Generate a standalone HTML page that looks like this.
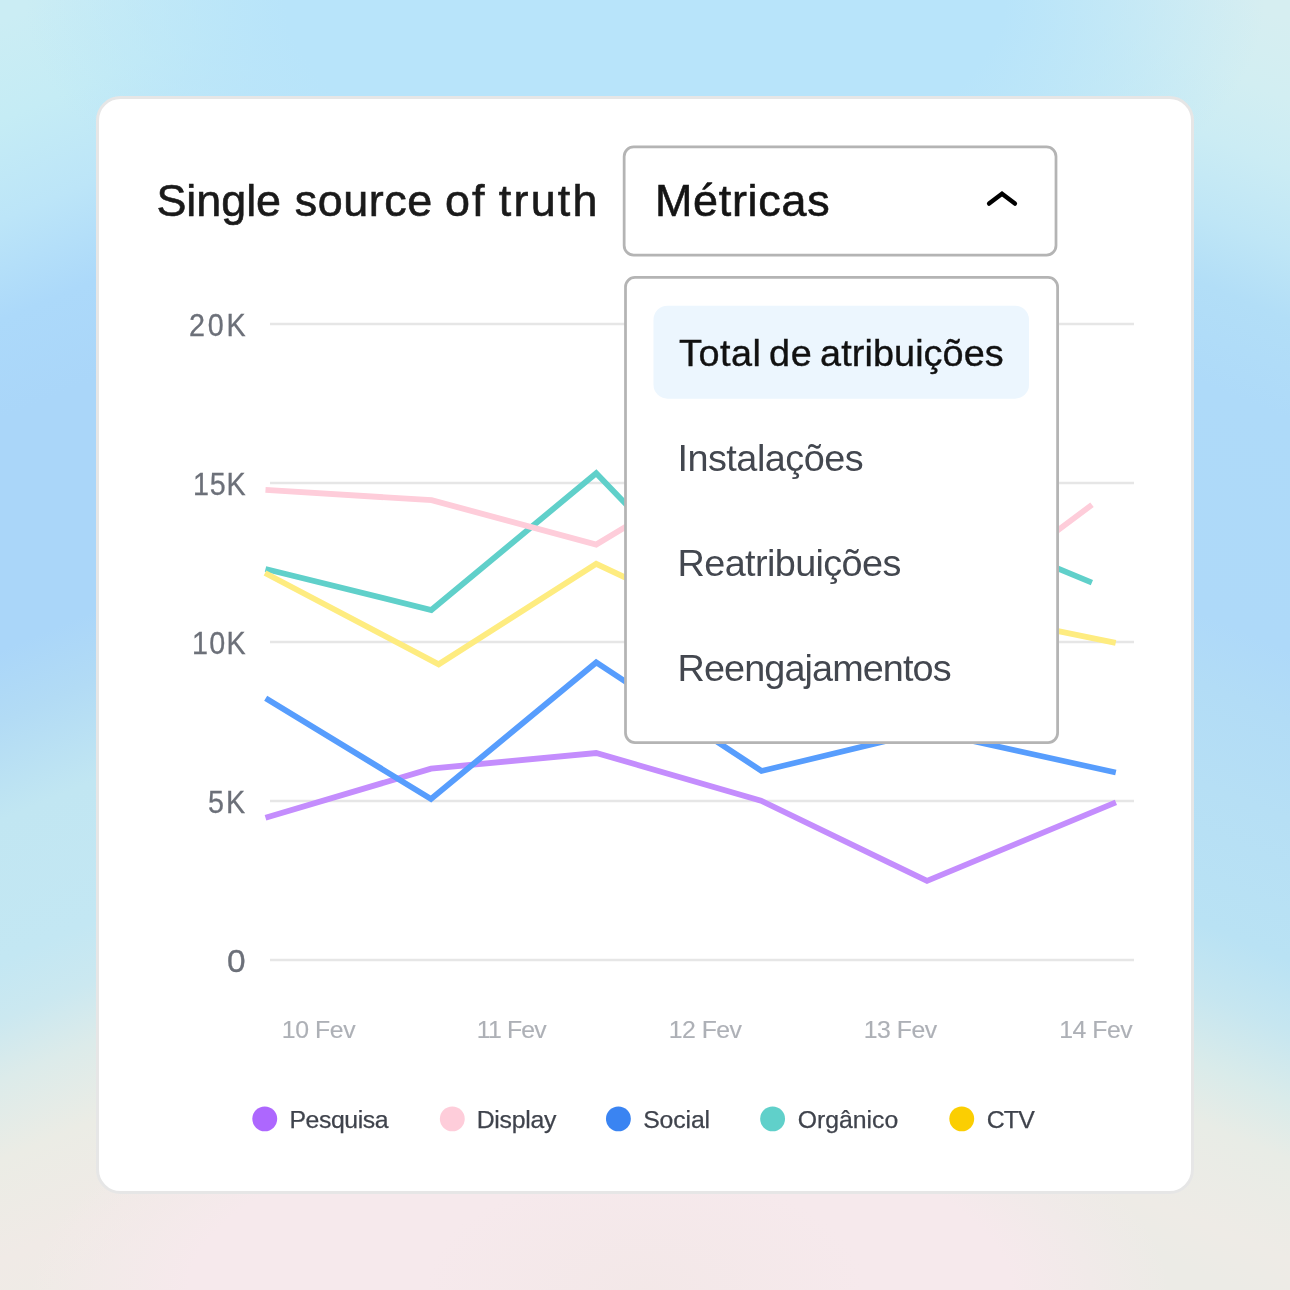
<!DOCTYPE html>
<html lang="pt">
<head>
<meta charset="utf-8">
<title>Single source of truth</title>
<style>
  html, body { margin: 0; padding: 0; }
  body {
    width: 1290px; height: 1290px; overflow: hidden; position: relative;
    font-family: "Liberation Sans", sans-serif;
    background: #b4dcf8;
  }
  .bg { position: absolute; left: 0; top: 0; width: 1290px; height: 1290px;
    background:
      radial-gradient(ellipse 220px 120px at 645px 1290px, rgba(241,231,229,0.6) 0%, rgba(241,231,229,0) 100%),
      radial-gradient(ellipse 620px 300px at 645px 0px, rgba(184,228,250,1) 0%, rgba(184,228,250,1) 58%, rgba(184,228,250,0) 100%),
      radial-gradient(ellipse 570px 230px at 600px 1290px, rgba(246,233,236,1) 0%, rgba(246,233,236,1) 72%, rgba(246,233,236,0) 100%),
      linear-gradient(157.22deg, #cbedf4 18.6px, #c5ecf5 110.8px, #bce5f8 203.0px, #acd9fa 295.2px, #aad6f9 387.4px, #aad6f9 599.4px, #b2dbf5 664.0px, #c1e6f2 756.2px, #c3e7f3 885.3px, #cbe8f0 940.6px, #dcebea 995.9px, #ebece5 1069.6px, #f0eae6 1161.8px, #efebe6 1207.9px) 0 0 / 645px 1290px no-repeat,
      linear-gradient(202.78deg, #d6eef1 18.6px, #d2eef2 92.3px, #cbecf4 156.9px, #bfe6f6 230.6px, #b2def7 295.2px, #aedaf9 387.4px, #aed9f9 599.4px, #b2dcf6 664.0px, #b6dff5 756.2px, #b9e2f4 885.3px, #c6e6f0 949.8px, #d9ebea 1014.3px, #e8ece6 1069.6px, #eeebe6 1161.8px, #ecebe6 1207.9px) 645px 0 / 645px 1290px no-repeat;
  }
  .card { position: absolute; left: 96px; top: 96px; width: 1092px; height: 1092px;
    border: 3px solid #e6e6e6; border-radius: 24.5px; background: #fff; }
  .t { position: absolute; white-space: nowrap; line-height: 1; margin: 0; }
  .layer { position: absolute; left: 0; top: 0; width: 1290px; height: 1290px; will-change: transform; }
  h1, p, ul, li { margin: 0; padding: 0; font-weight: normal; list-style: none; }
  .title { color: #1a1a1a; -webkit-text-stroke: 0.6px #1a1a1a; }
  .seltext { color: #141414; -webkit-text-stroke: 0.6px #141414; }
  .mi { color: #43474f; }
  .mi.sel { color: #111; -webkit-text-stroke: 0.38px #111; }
  .yl { color: #6c7079; -webkit-text-stroke: 0.3px #6c7079; }
  .xl { color: #adb0b6; -webkit-text-stroke: 0.15px #adb0b6; }
  .lg { color: #3f434c; -webkit-text-stroke: 0.25px #3f434c; }
  svg.chart { position: absolute; left: 0; top: 0; }
</style>
</head>
<body>
<div class="bg"></div>
<div class="card"></div>
<div class="layer">

<svg class="chart" width="1290" height="1290" viewBox="0 0 1290 1290">
  <g stroke="#e6e6e6" stroke-width="2.4" fill="none">
    <line x1="270" y1="324" x2="1134" y2="324"/>
    <line x1="270" y1="483" x2="1134" y2="483"/>
    <line x1="270" y1="642" x2="1134" y2="642"/>
    <line x1="270" y1="801" x2="1134" y2="801"/>
    <line x1="270" y1="960" x2="1134" y2="960"/>
  </g>
  <g fill="none" stroke-width="5.8" stroke-linejoin="miter" stroke-linecap="butt">
    <polyline stroke="#c48dfd" points="265.5,817.7 431,768.7 596.2,753 761,800.7 927,880.9 1115.9,802.4"/>
    <polyline stroke="#60d0ca" points="265.5,569 431.3,610 596.2,473.3 761,644 927,514.2 1091.9,582.6"/>
    <polyline stroke="#fecdda" points="265.5,489.8 431.6,500.2 596.2,544.6 761,445 927,628 1092,504.8"/>
    <polyline stroke="#feec80" points="265,573 438.7,664.3 596.2,563.8 761,641.7 927,604.3 1115.7,642.9"/>
    <polyline stroke="#579dfd" points="265.7,698.2 431,798.9 596.2,662.4 761.5,771 927,731 1115.8,772.5"/>
  </g>
  <g>
    <circle cx="264.75" cy="1118.85" r="12.45" fill="#ad67fe"/>
    <circle cx="452.3" cy="1118.85" r="12.45" fill="#fecdda"/>
    <circle cx="618.4" cy="1118.85" r="12.45" fill="#3a84f2"/>
    <circle cx="772.6" cy="1118.85" r="12.45" fill="#60d0ca"/>
    <circle cx="961.75" cy="1118.85" r="12.45" fill="#fbce02"/>
  </g>
</svg>

<div class="axis-y" aria-label="Eixo Y">
<p id="y20" class="t yl" style="left:188.75px;top:310px;font-size:31.9px;letter-spacing:3.040px;transform:scaleX(0.9);transform-origin:0 0">20K</p>
<p id="y15" class="t yl" style="left:192.70px;top:469px;font-size:31.9px;letter-spacing:0.933px;transform:scaleX(0.9);transform-origin:0 0">15K</p>
<p id="y10" class="t yl" style="left:191.70px;top:628px;font-size:31.9px;letter-spacing:1.467px;transform:scaleX(0.9);transform-origin:0 0">10K</p>
<p id="y5" class="t yl" style="left:208.30px;top:787px;font-size:31.9px;letter-spacing:2.150px;transform:scaleX(0.9);transform-origin:0 0">5K</p>
<p id="y0" class="t yl" style="left:226.65px;top:946px;font-size:31.9px;letter-spacing:0.000px;transform:scaleX(1.05);transform-origin:0 0">0</p>

</div>
<div class="axis-x" aria-label="Eixo X">
<p id="x10" class="t xl" style="left:281.75px;top:1018px;font-size:24.8px;letter-spacing:-0.380px">10 Fev</p>
<p id="x11" class="t xl" style="left:476.85px;top:1018px;font-size:24.8px;letter-spacing:-0.830px">11 Fev</p>
<p id="x12" class="t xl" style="left:668.75px;top:1018px;font-size:24.8px;letter-spacing:-0.520px">12 Fev</p>
<p id="x13" class="t xl" style="left:863.75px;top:1018px;font-size:24.8px;letter-spacing:-0.460px">13 Fev</p>
<p id="x14" class="t xl" style="left:1059.15px;top:1018px;font-size:24.8px;letter-spacing:-0.460px">14 Fev</p>

</div>
<ul class="legend">
<li id="lgP" class="t lg" style="left:289.45px;top:1108px;font-size:24.8px;letter-spacing:-0.414px">Pesquisa</li>
<li id="lgD" class="t lg" style="left:476.65px;top:1108px;font-size:24.8px;letter-spacing:-0.242px">Display</li>
<li id="lgS" class="t lg" style="left:643.20px;top:1108px;font-size:24.8px;letter-spacing:-0.120px">Social</li>
<li id="lgO" class="t lg" style="left:797.80px;top:1108px;font-size:24.8px;letter-spacing:-0.021px">Orgânico</li>
<li id="lgC" class="t lg" style="left:986.70px;top:1108px;font-size:24.8px;letter-spacing:-0.775px">CTV</li>

</ul>
<h1 class="title"><span id="tw1" class="t" style="left:156.45px;top:179px;font-size:44.9px;letter-spacing:-0.030px">Single</span> <span id="tw2" class="t" style="left:294.70px;top:179px;font-size:44.9px;letter-spacing:0.540px">source</span> <span id="tw3" class="t" style="left:444.90px;top:179px;font-size:44.9px;letter-spacing:2.250px">of</span> <span id="tw4" class="t" style="left:498.70px;top:179px;font-size:44.9px;letter-spacing:2.263px">truth</span></h1>

<svg class="chart" width="1290" height="1290" viewBox="0 0 1290 1290" style="pointer-events:none">
  <rect x="624.15" y="146.9" width="431.85" height="108.2" rx="9.5" ry="9.5" fill="#fff" stroke="#b4b4b4" stroke-width="2.75"/>
  <rect x="625.5" y="277.4" width="432.1" height="465.2" rx="9.5" ry="9.5" fill="#fff" stroke="#b4b4b4" stroke-width="2.75"/>
  <rect x="653.5" y="305.7" width="375.5" height="93" rx="14" ry="14" fill="#ecf6fe"/>
  <polyline points="989.1,203.6 1002,193.7 1014.9,203.6" fill="none" stroke="#000" stroke-width="4.4" stroke-linecap="round" stroke-linejoin="miter"/>
</svg>

<div class="select" role="combobox" aria-expanded="true">
<p id="sel" class="t seltext" style="left:654.90px;top:179px;font-size:44.9px;letter-spacing:0.736px">Métricas</p>
</div>
<ul class="menu" role="listbox">
<li class="mi sel" role="option" aria-selected="true"><span id="m0a" class="t" style="left:679.00px;top:335px;font-size:37.8px;letter-spacing:0.500px">Total</span> <span id="m0b" class="t" style="left:768.95px;top:335px;font-size:37.8px;letter-spacing:0.750px">de</span> <span id="m0c" class="t" style="left:820.05px;top:335px;font-size:37.8px;letter-spacing:0.090px">atribuições</span></li>
<li id="mi1" class="t mi" role="option" style="left:677.40px;top:440px;font-size:37.8px;letter-spacing:-0.485px">Instalações</li>
<li id="mi2" class="t mi" role="option" style="left:677.60px;top:545px;font-size:37.8px;letter-spacing:-0.613px">Reatribuições</li>
<li id="mi3" class="t mi" role="option" style="left:677.60px;top:650px;font-size:37.8px;letter-spacing:-0.908px">Reengajamentos</li>
</ul>
</div>
</body>
</html>
